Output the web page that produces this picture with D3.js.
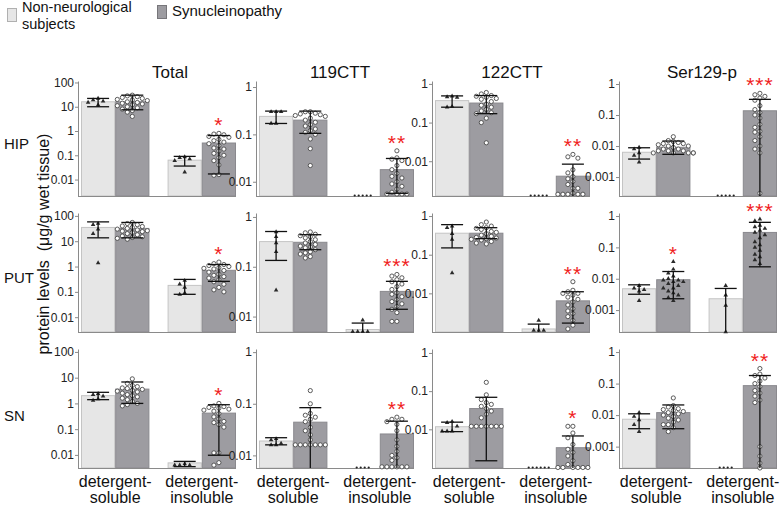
<!DOCTYPE html>
<html><head><meta charset="utf-8">
<script src="https://cdn.jsdelivr.net/npm/d3@7"></script>
<style>
body{margin:0;background:#fff;}
text{font-family:"Liberation Sans",Arial,Helvetica,sans-serif;}
</style>
</head><body>
<svg id="chart" width="784" height="505"></svg>
<script>
// ---------------- DATA ----------------
const regions   = ["HIP", "PUT", "SN"];
const species   = ["Total", "119CTT", "122CTT", "Ser129-p"];
const fractions = ["detergent-soluble", "detergent-insoluble"];
const groups    = ["Non-neurological subjects", "Synucleinopathy"];

// y-axis tick labels per column
const tickTotal = [0.01, 0.1, 1, 10, 100];
const tick119   = [0.01, 0.1, 1];
const tick122   = [0.01, 0.1, 1];
const tickSer   = [0.001, 0.01, 0.1, 1];

// log-axis domains [min, max] per region, per species
const hipDomain = [[0.0021, 115], [0.005, 1.34], [0.00126, 1.19], [0.000245, 1.25]];
const putDomain = [[0.0026, 130], [0.0049, 1.2], [0.001, 1.2], [0.0002, 1.25]];
const snDomain  = [[0.0031, 130], [0.0057, 1.15], [0.00097, 1.27], [0.00021, 1.25]];

// bar means: [NN soluble, Syn soluble, NN insoluble, Syn insoluble]; null = not detected
const hipMean = [[16, 16, 0.063, 0.32], [0.24, 0.2, null, 0.018], [0.37, 0.32, null, 0.0041], [0.0063, 0.0091, null, 0.137]];
const putMean = [[35, 32, 0.18, 0.71], [0.32, 0.31, 0.0055, 0.032], [0.36, 0.36, 0.0012, 0.0064], [0.0048, 0.0093, 0.0023, 0.3]];
const snMean  = [[2.0, 3.6, 0.0049, 0.42], [0.019, 0.044, null, 0.026], [0.0117, 0.035, null, 0.0033], [0.0074, 0.012, null, 0.086]];

// error bars [low, high]
const hipErr = [
  [[10, 22], [7.5, 30], [0.036, 0.09], [0.017, 0.65]],
  [[0.17, 0.31], [0.105, 0.31], null, [0.0057, 0.031]],
  [[0.25, 0.49], [0.17, 0.5], null, [0.0005, 0.0084]],
  [[0.0038, 0.0088], [0.0054, 0.0145], null, [0.0001, 0.32]]
];
const putErr = [
  [[13.6, 58], [13.6, 55], [0.08, 0.31], [0.26, 1.2]],
  [[0.134, 0.51], [0.22, 0.44], [0.004, 0.0074], [0.014, 0.051]],
  [[0.15, 0.6], [0.26, 0.5], [0.0009, 0.0016], [0.0017, 0.011]],
  [[0.0032, 0.0064], [0.0023, 0.017], [0.0001, 0.0049], [0.024, 0.63]]
];
const snErr = [
  [[1.4, 2.7], [1.0, 6.8], [0.0035, 0.0056], [0.0097, 0.89]],
  [[0.016, 0.022], [0.001, 0.084], null, [0.001, 0.046]],
  [[0.0087, 0.0154], [0.0015, 0.069], null, [0.0001, 0.0067]],
  [[0.0037, 0.011], [0.0037, 0.021], null, [0.0001, 0.18]]
];

// individual subjects
const hipPoints = [
  [[22, 19, 17, 15, 12],
   [30, 28, 26, 24, 22, 20, 19, 18, 16, 15, 14, 13, 12, 11, 10, 9, 8, 7, 6, 4],
   [0.085, 0.08, 0.07, 0.06, 0.02],
   [0.8, 0.75, 0.7, 0.6, 0.55, 0.45, 0.4, 0.35, 0.3, 0.25, 0.2, 0.18, 0.15, 0.12, 0.1, 0.08, 0.06, 0.04, 0.016, 0.015]],
  [[0.3, 0.3, 0.3, 0.17, 0.17],
   [0.3, 0.3, 0.28, 0.27, 0.26, 0.25, 0.24, 0.22, 0.2, 0.18, 0.16, 0.15, 0.13, 0.12, 0.11, 0.1, 0.08, 0.05, 0.022],
   [],
   [0.045, 0.032, 0.03, 0.028, 0.022, 0.018, 0.015, 0.013, 0.012, 0.01, 0.009, 0.008, 0.007, 0.006, 0.0055, 0.0055, 0.0055, 0.0055]],
  [[0.48, 0.46, 0.45, 0.26, 0.25],
   [0.6, 0.55, 0.5, 0.48, 0.45, 0.42, 0.4, 0.35, 0.3, 0.28, 0.25, 0.22, 0.2, 0.18, 0.17, 0.13, 0.1, 0.03],
   [],
   [0.015, 0.013, 0.012, 0.006, 0.005, 0.004, 0.0035, 0.003, 0.0025, 0.002, 0.002, 0.0015, 0.0014, 0.0014, 0.0014, 0.0014, 0.0014]],
  [[0.009, 0.008, 0.006, 0.005, 0.003],
   [0.02, 0.015, 0.014, 0.013, 0.012, 0.012, 0.011, 0.01, 0.01, 0.009, 0.008, 0.008, 0.007, 0.007, 0.007, 0.006, 0.006, 0.006, 0.006, 0.006],
   [],
   [0.5, 0.45, 0.4, 0.35, 0.3, 0.2, 0.15, 0.12, 0.1, 0.08, 0.05, 0.04, 0.03, 0.028, 0.02, 0.015, 0.01, 0.008, 0.006, 0.0003]]
];
const putPoints = [
  [[50, 45, 30, 20, 1.4],
   [55, 50, 45, 40, 38, 35, 32, 30, 28, 26, 25, 24, 22, 20, 18, 16, 15, 14, 13, 12],
   [0.28, 0.2, 0.15, 0.09, 0.08],
   [1.5, 1.3, 1.2, 1.1, 1.0, 0.9, 0.85, 0.8, 0.7, 0.6, 0.5, 0.45, 0.4, 0.35, 0.3, 0.25, 0.2, 0.15, 0.12, 0.1]],
  [[0.5, 0.4, 0.3, 0.2, 0.034],
   [0.5, 0.48, 0.45, 0.42, 0.4, 0.38, 0.35, 0.32, 0.3, 0.28, 0.26, 0.25, 0.24, 0.22, 0.2, 0.19, 0.18, 0.16, 0.15],
   [0.0085, 0.005, 0.005, 0.005, 0.005],
   [0.07, 0.065, 0.06, 0.055, 0.05, 0.045, 0.04, 0.035, 0.03, 0.028, 0.025, 0.022, 0.02, 0.018, 0.016, 0.014, 0.012, 0.008, 0.008]],
  [[0.55, 0.5, 0.35, 0.25, 0.034],
   [0.7, 0.6, 0.55, 0.5, 0.48, 0.45, 0.4, 0.38, 0.35, 0.32, 0.3, 0.28, 0.27, 0.26, 0.25, 0.24, 0.22, 0.2, 0.19],
   [0.002, 0.0011, 0.0011, 0.0011],
   [0.02, 0.012, 0.011, 0.01, 0.01, 0.009, 0.008, 0.007, 0.006, 0.005, 0.004, 0.0035, 0.003, 0.0025, 0.002, 0.0015, 0.0012]],
  [[0.006, 0.005, 0.0045, 0.004, 0.002],
   [0.035, 0.02, 0.015, 0.012, 0.01, 0.009, 0.009, 0.008, 0.008, 0.007, 0.006, 0.005, 0.005, 0.004, 0.0035, 0.003, 0.0025, 0.002],
   [0.006, 0.003, 0.0014, 0.0002],
   [0.8, 0.7, 0.5, 0.45, 0.4, 0.35, 0.3, 0.25, 0.2, 0.15, 0.12, 0.1, 0.08, 0.06, 0.05, 0.04, 0.03]]
];
const snPoints = [
  [[2.4, 2.2, 1.9, 1.5, 1.3],
   [9, 6, 5, 4.5, 4, 3.8, 3.5, 3.2, 3, 2.8, 2.5, 2.2, 2, 1.8, 1.6, 1.4, 1.2, 1.0, 0.9, 0.8],
   [0.0045, 0.004, 0.004, 0.004],
   [1.0, 0.8, 0.75, 0.7, 0.65, 0.6, 0.55, 0.5, 0.4, 0.3, 0.25, 0.2, 0.18, 0.15, 0.12, 0.012, 0.012, 0.005, 0.004]],
  [[0.021, 0.02, 0.017, 0.016, 0.016],
   [0.18, 0.1, 0.065, 0.06, 0.055, 0.05, 0.045, 0.035, 0.03, 0.025, 0.02, 0.016, 0.016, 0.016, 0.016, 0.016, 0.016, 0.016],
   [],
   [0.055, 0.05, 0.05, 0.045, 0.04, 0.03, 0.02, 0.015, 0.012, 0.01, 0.009, 0.008, 0.006, 0.006, 0.006, 0.006, 0.006, 0.006]],
  [[0.016, 0.015, 0.012, 0.009, 0.009, 0.009],
   [0.17, 0.08, 0.06, 0.05, 0.045, 0.04, 0.035, 0.03, 0.025, 0.02, 0.012, 0.012, 0.012, 0.012, 0.012, 0.012, 0.012],
   [],
   [0.012, 0.012, 0.008, 0.006, 0.004, 0.003, 0.0025, 0.002, 0.0015, 0.0012, 0.001, 0.001, 0.001, 0.001, 0.001, 0.001]],
  [[0.012, 0.009, 0.007, 0.005, 0.003],
   [0.035, 0.02, 0.018, 0.016, 0.015, 0.014, 0.013, 0.012, 0.011, 0.01, 0.009, 0.008, 0.007, 0.006, 0.005, 0.005, 0.004, 0.003],
   [],
   [0.3, 0.2, 0.18, 0.15, 0.12, 0.1, 0.08, 0.06, 0.05, 0.04, 0.03, 0.025, 0.001, 0.0005, 0.0003, 0.0002]]
];

// not-detected sample counts (drawn as dots on the baseline)
const hipND = [[0, 0, 0, 0], [0, 0, 5, 0], [0, 0, 5, 0], [0, 0, 5, 0]];
const putND = [[0, 0, 0, 0], [0, 0, 0, 0], [0, 0, 0, 0], [0, 0, 0, 0]];
const snND  = [[0, 0, 0, 0], [0, 0, 4, 0], [0, 0, 6, 0], [0, 0, 4, 0]];

// significance marks
const hipStars = [["", "", "", "*"], ["", "", "", "**"], ["", "", "", "**"], ["", "", "", "***"]];
const putStars = [["", "", "", "*"], ["", "", "", "***"], ["", "", "", "**"], ["", "*", "", "***"]];
const snStars  = [["", "", "", "*"], ["", "", "", "**"], ["", "", "", "*"], ["", "", "", "**"]];

// ---------------- LAYOUT ----------------
const tickSets = [tickTotal, tick119, tick122, tickSer];
const rowData = [
  {dom: hipDomain, mean: hipMean, err: hipErr, pts: hipPoints, nd: hipND, stars: hipStars},
  {dom: putDomain, mean: putMean, err: putErr, pts: putPoints, nd: putND, stars: putStars},
  {dom: snDomain,  mean: snMean,  err: snErr,  pts: snPoints,  nd: snND,  stars: snStars}
];
const colX = [78, 256, 432, 619];
const rowRange = [[196, 81], [332, 213], [468, 349]];
const rowLabelY = [149, 283, 421];
const panelW = 158;
const fillC = ["#e6e6e6", "#9d9ca1"];
const strokeC = ["#c4c4c4", "#8a898e"];

const svg = d3.select("#chart");

// legend
const leg = svg.append("g");
leg.append("rect").attr("x", 7.5).attr("y", 8.5).attr("width", 9).attr("height", 13)
  .attr("fill", fillC[0]).attr("stroke", "#b0b0b0");
leg.append("text").attr("x", 22).attr("y", 12).attr("font-size", 14.5).attr("fill", "#111").text("Non-neurological");
leg.append("text").attr("x", 22).attr("y", 29).attr("font-size", 14.5).attr("fill", "#111").text("subjects");
leg.append("rect").attr("x", 157.5).attr("y", 5.5).attr("width", 9).attr("height", 13)
  .attr("fill", fillC[1]).attr("stroke", "#77767a");
leg.append("text").attr("x", 172).attr("y", 16).attr("font-size", 15).attr("fill", "#111").text(groups[1]);

// column titles
const titleX = [170, 340, 512, 702];
species.forEach((s, c) => {
  svg.append("text").attr("x", titleX[c]).attr("y", 78).attr("text-anchor", "middle")
    .attr("font-size", 17).attr("fill", "#111").text(s);
});

// row labels
regions.forEach((r, i) => {
  svg.append("text").attr("x", 4).attr("y", rowLabelY[i]).attr("font-size", 15).attr("fill", "#111").text(r);
});

// y title
svg.append("text").attr("transform", "translate(49,244) rotate(-90)").attr("text-anchor", "middle")
  .attr("font-size", 16).attr("fill", "#111").attr("xml:space", "preserve")
  .text("protein levels  (\u03bcg/g wet tissue)");

// x labels under bottom row
colX.forEach(a => {
  const xg = d3.scaleBand().domain(fractions).range([a + 3, a + panelW]).paddingInner(0.21);
  fractions.forEach(f => {
    const cx = xg(f) + xg.bandwidth() / 2;
    const t = svg.append("text").attr("text-anchor", "middle").attr("font-size", 16).attr("fill", "#111");
    t.append("tspan").attr("x", cx).attr("y", 487).text("detergent-");
    t.append("tspan").attr("x", cx).attr("y", 503).text(f.replace("detergent-", ""));
  });
});

function swarm(values, cx, ys) {
  const placed = [];
  const offs = [0, -5, 5, -10, 10, -15, 15, -20, 20];
  const sorted = values.slice().sort((a, b) => b - a);
  sorted.forEach(v => {
    const y = ys(v);
    let px = cx + offs[offs.length - 1];
    for (const o of offs) {
      const x = cx + o;
      if (placed.every(q => Math.hypot(q.x - x, q.y - y) >= 4.8)) { px = x; break; }
    }
    placed.push({x: px, y: y});
  });
  return placed;
}

rowData.forEach((R, r) => {
  const [bottom, top] = rowRange[r];
  species.forEach((s, c) => {
    const a = colX[c];
    const g = svg.append("g");
    const ys = d3.scaleLog().domain(R.dom[c]).range([bottom, top]).clamp(true);
    const xg = d3.scaleBand().domain(fractions).range([a + 3, a + panelW]).paddingInner(0.21);
    const xs = d3.scaleBand().domain(groups).range([0, xg.bandwidth()]);

    // bars
    for (let i = 0; i < 4; i++) {
      const f = fractions[i >> 1], gr = groups[i & 1];
      const x0 = xg(f) + xs(gr), w = xs.bandwidth();
      const m = R.mean[c][i];
      if (m != null) {
        g.append("rect").attr("x", x0 + 0.5).attr("y", ys(m)).attr("width", w - 1)
          .attr("height", bottom - ys(m)).attr("fill", fillC[i & 1]).attr("stroke", strokeC[i & 1]).attr("stroke-width", 1);
      }
    }
    // axes
    const ax = g.append("g").attr("transform", `translate(${a},0)`)
      .call(d3.axisLeft(ys).tickValues(tickSets[c]).tickFormat(d => String(d)).tickSize(3).tickSizeOuter(0).tickPadding(1));
    ax.select(".domain").attr("stroke", "#8a8a8a");
    ax.selectAll(".tick line").attr("stroke", "#8a8a8a");
    ax.selectAll(".tick text").attr("font-size", 12).attr("fill", "#222").attr("font-family", "Liberation Sans, Arial, sans-serif");
    g.append("line").attr("x1", a).attr("x2", a + panelW).attr("y1", bottom + 0.5).attr("y2", bottom + 0.5)
      .attr("stroke", "#8a8a8a");

    for (let i = 0; i < 4; i++) {
      const f = fractions[i >> 1], gr = groups[i & 1];
      const cx = xg(f) + xs(gr) + xs.bandwidth() / 2;
      const pts = R.pts[c][i];
      const useTri = (i & 1) === 0 || (r === 1 && c === 3);
      // points
      swarm(pts, cx, ys).forEach(p => {
        if (useTri) {
          g.append("path").attr("d", d3.symbol(d3.symbolTriangle, 9)())
            .attr("transform", `translate(${p.x},${p.y})`).attr("fill", "#2a2a2a");
        } else {
          g.append("circle").attr("cx", p.x).attr("cy", p.y).attr("r", 2.1)
            .attr("fill", "#fff").attr("stroke", "#4a4a4a").attr("stroke-width", 0.9);
        }
      });
      // not detected
      const n = R.nd[c][i];
      for (let k = 0; k < n; k++) {
        g.append("circle").attr("cx", cx + (k - (n - 1) / 2) * 4).attr("cy", bottom - 0.5).attr("r", 1.1).attr("fill", "#222");
      }
      // error bar
      const e = R.err[c][i];
      if (e) {
        const yl = ys(e[0]), yh = ys(e[1]);
        g.append("line").attr("x1", cx).attr("x2", cx).attr("y1", yl).attr("y2", yh)
          .attr("stroke", "#111").attr("stroke-width", 1.3);
        g.append("line").attr("x1", cx - 11).attr("x2", cx + 11).attr("y1", yh).attr("y2", yh)
          .attr("stroke", "#111").attr("stroke-width", 1.3);
        if (e[0] > R.dom[c][0]) {
          g.append("line").attr("x1", cx - 11).attr("x2", cx + 11).attr("y1", yl).attr("y2", yl)
            .attr("stroke", "#111").attr("stroke-width", 1.3);
        }
      }
      // stars
      const st = R.stars[c][i];
      if (st) {
        let ytop = e ? ys(e[1]) : bottom;
        if (pts.length) ytop = Math.min(ytop, ys(d3.max(pts)));
        g.append("text").attr("x", cx).attr("y", ytop - 1).attr("text-anchor", "middle")
          .attr("font-size", 21).attr("letter-spacing", 1).attr("fill", "#f01e1e").text(st);
      }
    }
  });
});
</script>
</body></html>
